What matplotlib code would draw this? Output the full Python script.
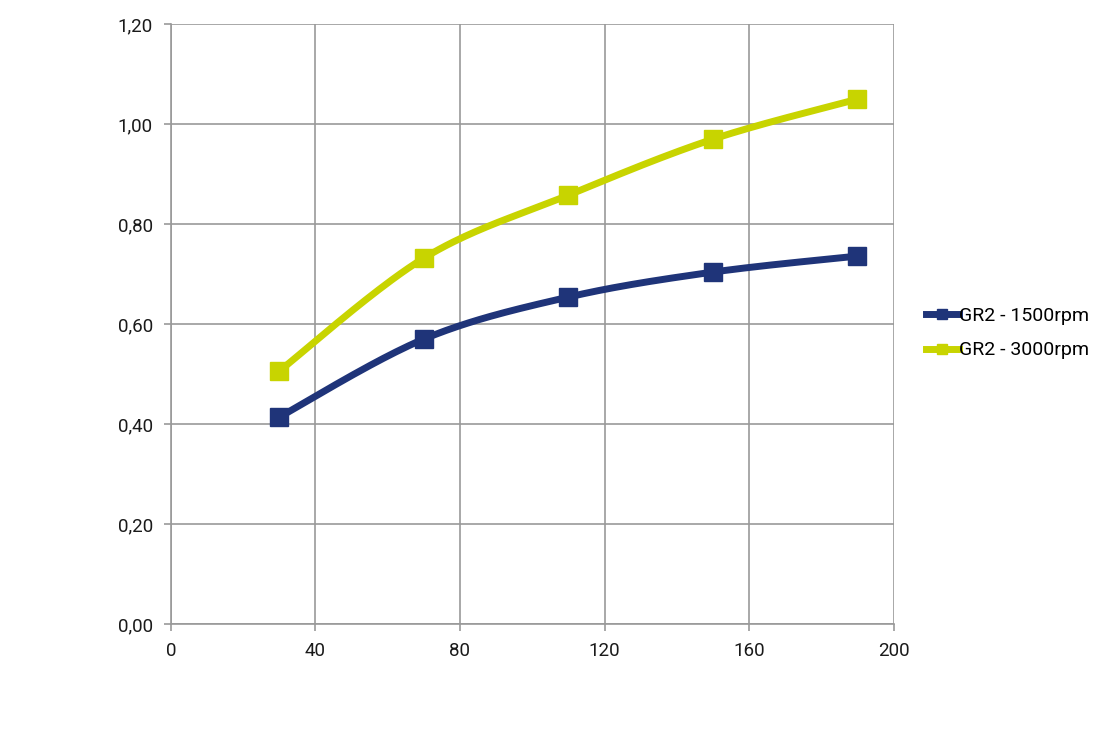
import numpy as np
import matplotlib.pyplot as plt

# data
x_vals = [30, 70, 110, 150, 190]
rpm1500 = [0.414, 0.570, 0.654, 0.704, 0.736]
rpm3000 = [0.506, 0.732, 0.858, 0.970, 1.050]
labels = ['GR2 - 1500rpm', 'GR2 - 3000rpm']
colors = ['#1F3479', '#C8D400']

plt.rcParams['font.family'] = ['Roboto', 'DejaVu Sans']


def smooth(xs, ys, sx, sy, n=40):
    # Excel-like smoothed line: cubic Bezier with Catmull-Rom control points
    P = np.column_stack([np.array(xs) * sx, np.array(ys) * sy])
    P = np.vstack([P[0], P, P[-1]])
    out = []
    for i in range(1, len(P) - 2):
        p0, p1, p2, p3 = P[i - 1], P[i], P[i + 1], P[i + 2]
        c1 = p1 + (p2 - p0) / 6
        c2 = p2 - (p3 - p1) / 6
        t = np.linspace(0, 1, n)[:, None]
        seg = (1 - t) ** 3 * p1 + 3 * (1 - t) ** 2 * t * c1 + 3 * (1 - t) * t ** 2 * c2 + t ** 3 * p2
        out.append(seg)
    out = np.vstack(out)
    return out[:, 0] / sx, out[:, 1] / sy


fig = plt.figure(figsize=(11.1, 7.34), dpi=100)
ax = fig.add_axes([0.154, 0.150, 0.651, 0.817])

sx, sy = 723 / 200, 600 / 1.2
for ys, lab, c in zip([rpm1500, rpm3000], labels, colors):
    xs_s, ys_s = smooth(x_vals, ys, sx, sy)
    ax.plot(xs_s, ys_s, color=c, lw=5, solid_capstyle='round', zorder=3)
    ax.plot(x_vals, ys, ls='none', marker='s', ms=12.5, color=c, zorder=4)
    ax.plot([], [], color=c, lw=5, marker='s', ms=7, label=lab)

ax.set_xlim(0, 200)
ax.set_ylim(0, 1.2)
ax.set_xticks(np.arange(0, 201, 40))
ax.set_yticks(np.arange(0, 1.21, 0.2))
ax.set_yticklabels([f'{v:.2f}'.replace('.', ',') for v in np.arange(0, 1.21, 0.2)])
ax.grid(True, color='#999999', lw=1.2)
ax.set_axisbelow(True)
for s in ['top', 'right']:
    ax.spines[s].set_visible(False)
for s in ['left', 'bottom']:
    ax.spines[s].set_color('#999999')
    ax.spines[s].set_linewidth(1.2)
ax.tick_params(colors='#999999', labelcolor='#1a1a1a', labelsize=13.5, length=5, width=1.2)
ax.tick_params(axis='y', pad=8)
ax.tick_params(axis='x', pad=8)

leg = ax.legend(loc='center left', bbox_to_anchor=(1.02, 0.485), frameon=False,
                fontsize=14, handlelength=1.7, handletextpad=0.0, labelspacing=0.85)

fig.savefig('out.png', dpi=100)
